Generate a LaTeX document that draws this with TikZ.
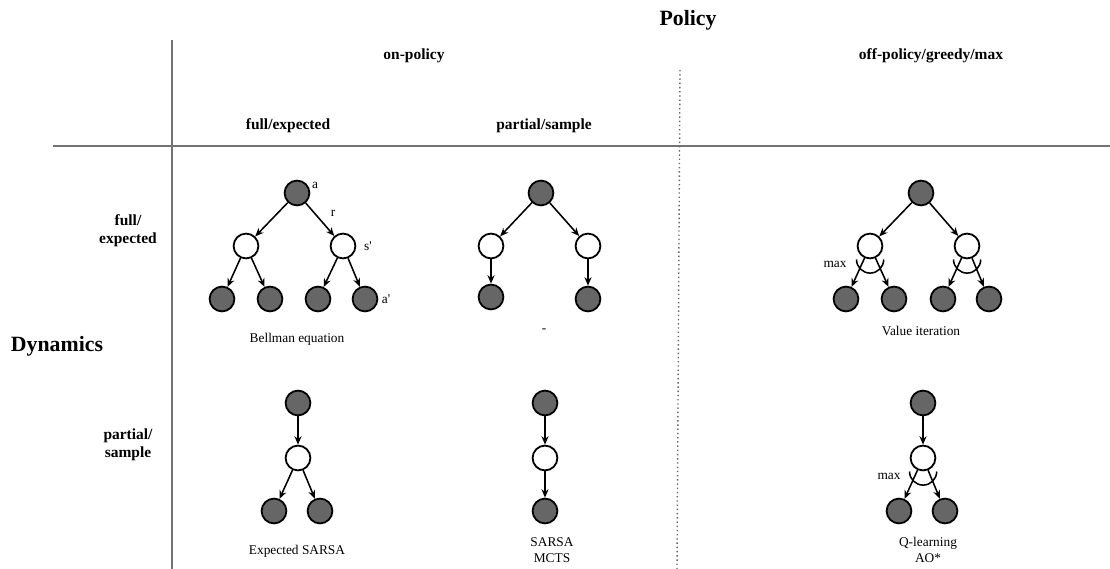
\documentclass[tikz,border=0pt]{standalone}
\usepackage{fontspec}
\setmainfont{Liberation Serif}
\usetikzlibrary{arrows.meta}
\begin{document}
\begin{tikzpicture}[x=0.025cm,y=0.025cm,
    act/.style={circle,draw,line width=1.3pt,fill=black!60,minimum size=0.62cm,inner sep=0pt},
    st/.style={circle,draw,line width=1.3pt,fill=white,minimum size=0.62cm,inner sep=0pt},
    edge/.style={-{Stealth[length=6pt,width=5pt]},line width=1.1pt},
    maxarc/.style={line width=1.1pt},
    lbl/.style={font=\fontsize{9.5}{11}\selectfont,inner sep=0pt},
    head/.style={font=\fontsize{11}{13}\selectfont\bfseries,align=center},
    big/.style={font=\fontsize{15.5}{18}\selectfont\bfseries}]
     \useasboundingbox (0,0) rectangle (1110,-569);
     \draw [black!55,line width=1.3pt] (172,-40)--(172,-569);
     \draw [black!55,line width=1.3pt] (53,-146)--(1110,-146);
     \draw [black!60,dotted,line width=1pt] (680,-70)--(677,-569);
     \node [big] (policy) at (688,-20) {Policy};
     \node [big] (dyn) at (57,-346) {Dynamics};
     \node [head] (onp) at (414,-56) {on-policy};
     \node [head] (offp) at (931,-56) {off-policy/greedy/max};
     \node [head] (fullp) at (288,-126) {full/expected};
     \node [head] (partp) at (544,-126) {partial/sample};
     \node [head] (fulld) at (128,-231) {full/\\expected};
     \node [head] (partd) at (128,-445) {partial/\\sample};

     \node [act] (b) at (297,-193) {};
     \node [st] (bl) at (246,-246) {};
     \node [st] (br) at (343,-246) {};
     \node [act] (bll) at (222,-299) {};
     \node [act] (blr) at (270,-299) {};
     \node [act] (brl) at (318,-299) {};
     \node [act] (brr) at (365,-299) {};
     \draw [edge] (b)--(bl);
     \draw [edge] (b)--(br);
     \draw [edge] (bl)--(bll);
     \draw [edge] (bl)--(blr);
     \draw [edge] (br)--(brl);
     \draw [edge] (br)--(brr);
     \node [lbl] (ba) at (315,-185) {a};
     \node [lbl] (bre) at (333,-213) {r};
     \node [lbl] (bs) at (368,-246) {s\textquotesingle};
     \node [lbl] (baa) at (386,-299) {a\textquotesingle};
     \node [lbl] (bname) at (297,-339) {Bellman equation};

     \node [act] (p) at (541,-193) {};
     \node [st] (pl) at (491,-246) {};
     \node [st] (pr) at (588,-246) {};
     \node [act] (pll) at (491,-297) {};
     \node [act] (prr) at (588,-299) {};
     \draw [edge] (p)--(pl);
     \draw [edge] (p)--(pr);
     \draw [edge] (pl)--(pll);
     \draw [edge] (pr)--(prr);
     \node [lbl] (pname) at (544,-331) {-};

     \node [act] (v) at (921,-193) {};
     \node [st] (vl) at (870,-246) {};
     \node [st] (vr) at (967,-246) {};
     \node [act] (vll) at (846,-299) {};
     \node [act] (vlr) at (894,-299) {};
     \node [act] (vrl) at (943,-299) {};
     \node [act] (vrr) at (989,-299) {};
     \draw [edge] (v)--(vl);
     \draw [edge] (v)--(vr);
     \draw [edge] (vl)--(vll);
     \draw [edge] (vl)--(vlr);
     \draw [edge] (vr)--(vrl);
     \draw [edge] (vr)--(vrr);
     \draw [maxarc] ([shift={(-13.5,-13.5)}]vl.center) arc[start angle=180,end angle=360,radius=0.34cm];
     \draw [maxarc] ([shift={(-13.5,-13.5)}]vr.center) arc[start angle=180,end angle=360,radius=0.34cm];
     \node [lbl] (vmax) at (835,-264) {max};
     \node [lbl] (vname) at (921,-331) {Value iteration};

     \node [act] (e) at (298,-403) {};
     \node [st] (em) at (298,-458) {};
     \node [act] (el) at (274,-511) {};
     \node [act] (er) at (320,-511) {};
     \draw [edge] (e)--(em);
     \draw [edge] (em)--(el);
     \draw [edge] (em)--(er);
     \node [lbl] (ename) at (297,-551) {Expected SARSA};

     \node [act] (s) at (545,-403) {};
     \node [st] (sm) at (545,-458) {};
     \node [act] (sl) at (545,-511) {};
     \draw [edge] (s)--(sm);
     \draw [edge] (sm)--(sl);
     \node [lbl,align=center] (sname) at (552,-550) {SARSA\\MCTS};

     \node [act] (q) at (923,-403) {};
     \node [st] (qm) at (923,-458) {};
     \node [act] (ql) at (899,-511) {};
     \node [act] (qr) at (945,-511) {};
     \draw [edge] (q)--(qm);
     \draw [edge] (qm)--(ql);
     \draw [edge] (qm)--(qr);
     \draw [maxarc] ([shift={(-13.5,-13.5)}]qm.center) arc[start angle=180,end angle=360,radius=0.34cm];
     \node [lbl] (qmax) at (889,-476) {max};
     \node [lbl,align=center] (qname) at (928,-550) {Q-learning\\AO*};
\end{tikzpicture}
\end{document}
